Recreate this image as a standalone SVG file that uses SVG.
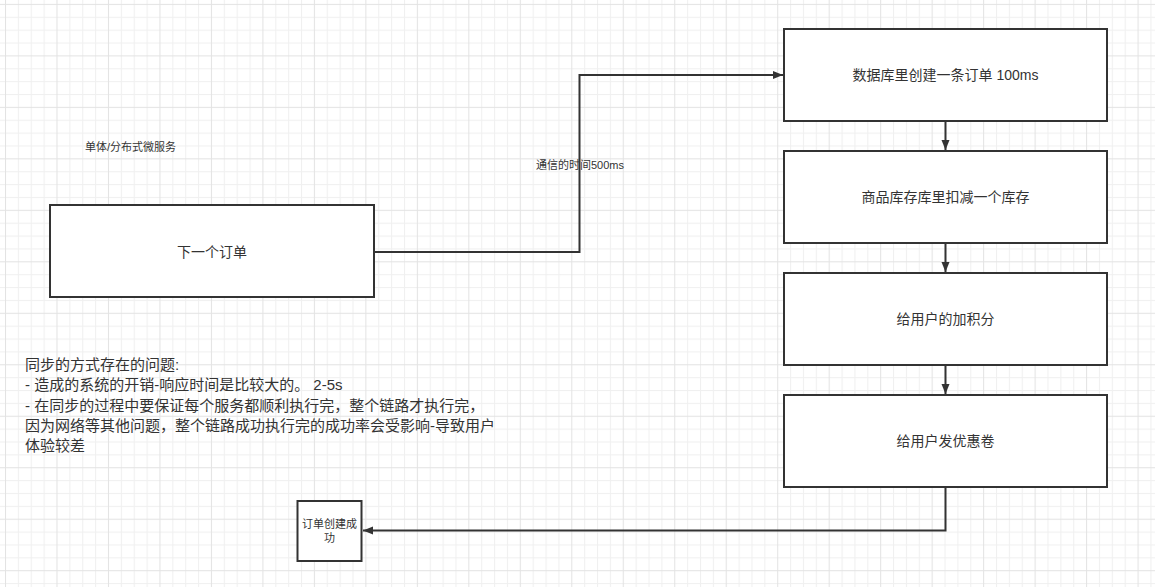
<svg xmlns="http://www.w3.org/2000/svg" width="1155" height="587" viewBox="0 0 1155 587">
  <defs>
    <pattern id="grid" patternUnits="userSpaceOnUse" x="5" y="3.9" width="51.48" height="51.48">
      <rect x="0" y="0" width="51.48" height="51.48" fill="#ffffff"/>
      <rect x="12.87" y="0" width="1" height="51.48" fill="#f0f0f0"/>
      <rect x="25.74" y="0" width="1" height="51.48" fill="#f0f0f0"/>
      <rect x="38.61" y="0" width="1" height="51.48" fill="#f0f0f0"/>
      <rect x="0" y="12.87" width="51.48" height="1" fill="#f0f0f0"/>
      <rect x="0" y="25.74" width="51.48" height="1" fill="#f0f0f0"/>
      <rect x="0" y="38.61" width="51.48" height="1" fill="#f0f0f0"/>
      <rect x="0" y="0" width="1" height="51.48" fill="#e3e3e3"/>
      <rect x="0" y="0" width="51.48" height="1" fill="#e3e3e3"/>
    </pattern>
    <marker id="arrow" viewBox="0 0 10 10" refX="10" refY="5" markerWidth="10" markerHeight="10" markerUnits="userSpaceOnUse" orient="auto">
      <path d="M0,1 L10,5 L0,9 Z" fill="#333333"/>
    </marker>
    <style>
      .box { fill: #ffffff; stroke: #333333; stroke-width: 2; }
      .lbl { font-family: "Liberation Sans", "Noto Sans CJK SC", sans-serif; fill: #333333; text-anchor: middle; dominant-baseline: central; }
      .big { font-size: 14px; }
      .small { font-size: 11px; }
      .note { font-family: "Liberation Sans", "Noto Sans CJK SC", sans-serif; fill: #333333; font-size: 15px; }
      .conn { fill: none; stroke: #333333; stroke-width: 2; }
    </style>
  </defs>
  <rect x="0" y="0" width="1155" height="587" fill="url(#grid)"/>

  <g id="connectors">
    <path class="conn" d="M374,252 H579.5 V75 H783" marker-end="url(#arrow)"/>
    <path class="conn" d="M945.5,121 V150" marker-end="url(#arrow)"/>
    <path class="conn" d="M945.5,243 V272" marker-end="url(#arrow)"/>
    <path class="conn" d="M945.5,365 V394" marker-end="url(#arrow)"/>
    <path class="conn" d="M945.5,487 V530.5 H363" marker-end="url(#arrow)"/>
    <text class="lbl small" x="580" y="165">通信的时间500ms</text>
  </g>

  <g id="node-order">
    <rect class="box" x="50" y="205" width="324" height="92"/>
    <text class="lbl big" x="212" y="252">下一个订单</text>
  </g>

  <g id="node-db">
    <rect class="box" x="784" y="29" width="323" height="92"/>
    <text class="lbl big" x="945.5" y="75">数据库里创建一条订单 100ms</text>
  </g>

  <g id="node-stock">
    <rect class="box" x="784" y="151" width="323" height="92"/>
    <text class="lbl big" x="945.5" y="197">商品库存库里扣减一个库存</text>
  </g>

  <g id="node-points">
    <rect class="box" x="784" y="273" width="323" height="92"/>
    <text class="lbl big" x="945.5" y="319">给用户的加积分</text>
  </g>

  <g id="node-coupon">
    <rect class="box" x="784" y="395" width="323" height="92"/>
    <text class="lbl big" x="945.5" y="441">给用户发优惠卷</text>
  </g>

  <g id="node-success">
    <rect class="box" x="297.5" y="501" width="64" height="60"/>
    <text class="lbl small" x="329.5" y="524">订单创建成</text>
    <text class="lbl small" x="329.5" y="538">功</text>
  </g>

  <g id="label-arch">
    <text class="lbl small" x="130.5" y="147">单体/分布式微服务</text>
  </g>

  <g id="note">
    <text class="note" x="25" y="369.5">同步的方式存在的问题:</text>
    <text class="note" x="25" y="390">- 造成的系统的开销-响应时间是比较大的。 2-5s</text>
    <text class="note" x="25" y="410.5">- 在同步的过程中要保证每个服务都顺利执行完，整个链路才执行完，</text>
    <text class="note" x="25" y="431">因为网络等其他问题，整个链路成功执行完的成功率会受影响-导致用户</text>
    <text class="note" x="25" y="451">体验较差</text>
  </g>
</svg>
